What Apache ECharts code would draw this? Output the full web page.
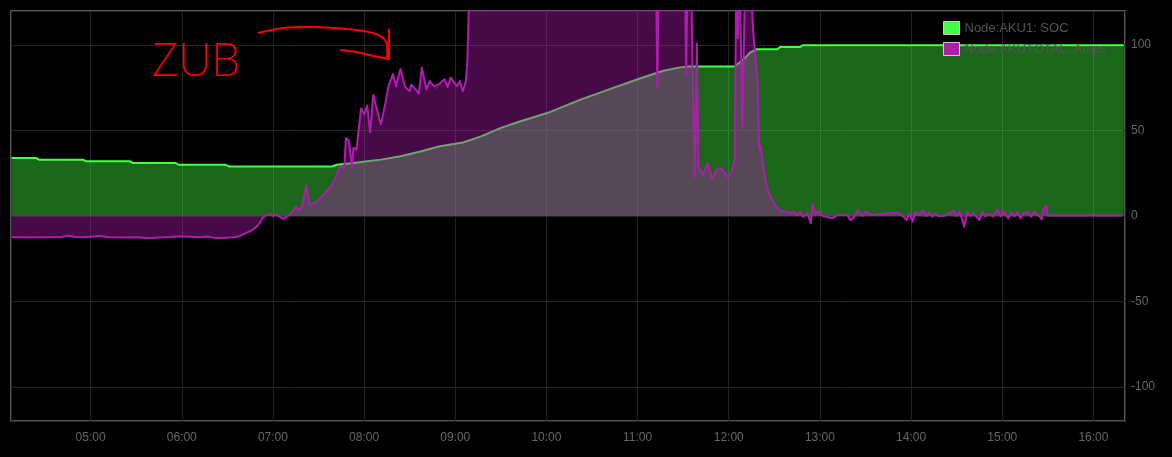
<!DOCTYPE html>
<html>
<head>
<meta charset="utf-8">
<script src="https://cdn.jsdelivr.net/npm/echarts@6/dist/echarts.min.js"></script>
<style>
  html, body { margin: 0; padding: 0; background: #000; }
  #chart { width: 1172px; height: 457px; }
</style>
</head>
<body>
<div id="chart"></div>
<script>
// ---- Data ----
const socTimes = ['04:08','04:24','04:26','04:55','04:57','05:26','05:28','05:56','05:58','06:29','06:31','07:39','07:42','07:53','08:02','08:11','08:24','08:37','08:50','09:05','09:17','09:30','09:43','10:01','10:22','10:44','11:02','11:17','11:28','11:34','12:04','12:11','12:14','12:18','12:32','12:34','12:47','12:49','16:20'];
const socValues = [34,34,33,33,32,32,31,31,30,30,29,29,30,31,32,33,35,37.8,40.8,43,46.6,51.6,55.5,60.4,68,75,80.6,85,87,87.5,87.5,92.7,95.7,97.6,97.6,99,99,100,100];

const ampTimes = ['04:08','04:14','04:20','04:30','04:40','04:46','04:50','04:56','05:06','05:12','05:22','05:30','05:39','05:45','05:52','05:59','06:06','06:12','06:17','06:23','06:29','06:34','06:38','06:42','06:46','06:49','06:51','06:53','06:55','06:58',
  '07:00','07:02','07:04','07:07','07:10','07:12','07:15','07:17','07:19','07:20','07:22','07:24','07:26','07:29','07:33','07:38','07:42','07:44','07:47','07:48','07:50','07:52','07:53','07:55','07:58',
  '08:00','08:02','08:04','08:06','08:08','08:11','08:14','08:16','08:19','08:21','08:22','08:24','08:27','08:30','08:31','08:34','08:36','08:38','08:41','08:43','08:46','08:49','08:53','08:55','08:57',
  '09:01','09:03','09:05','09:07','09:08','09:09','09:11','09:40','10:20','10:50','11:12','11:13','11:14','11:31','11:32','11:33','11:35','11:37:30','11:39','11:40','11:43','11:46','11:49','11:52','11:55','11:59',
  '12:02','12:04','12:05','12:06','12:07','12:08','12:09','12:10','12:11','12:14','12:16','12:19','12:20','12:21','12:23','12:25','12:27','12:31','12:34','12:37','12:39','12:41','12:43','12:45','12:47','12:49','12:52','12:54','12:55','12:57','12:59',
  '13:02','13:08','13:12','13:18','13:20','13:22','13:25','13:26','13:28','13:30','13:34','13:51','13:55','13:57','13:59',
  '14:01','14:03','14:05','14:08','14:10','14:12','14:14','14:16','14:18','14:22','14:25','14:28','14:30','14:32','14:35','14:37','14:39','14:41','14:45','14:47','14:49','14:51','14:54','14:57','14:59',
  '15:01','15:04','15:06','15:08','15:10','15:12','15:14','15:17','15:19','15:21','15:24','15:26','15:27','15:29','15:30','16:19'];
const ampValues = [-12.5,-12.4,-12.6,-12.5,-12.3,-11.6,-12.3,-12.4,-11.7,-12.5,-12.6,-12.4,-13.0,-12.6,-12.3,-11.8,-12.2,-12.4,-12.0,-13.0,-12.7,-12.4,-11.8,-10.0,-8.5,-6.5,-4.5,-1.5,0.3,1.2,
  0.0,0.9,-0.2,-1.8,0.2,1.6,5.5,3.5,5.0,9.4,18,6.5,7.2,8.4,12.4,17,24,29,28,45.7,44,29,40,39,63,
  59.5,64.7,49,71,64,53.5,66,76,83,76,80,86,75.5,73,77,74,71.6,87,74,79,76,77,80,75.5,81,
  76,79,73,79,92,125,150,160,170,165,150,75,150,150,83,150,150,23,101,29,24,31,22,27,28,23,
  26,34,150,104,150,150,52,52,150,150,109,78,39,41,27,17,12,5.5,3,2.5,2.5,1.5,2.5,0.5,2.5,-0.4,1.5,-4.3,7,1.5,2.5,
  0,-1.4,0.6,0.6,-2.4,-1.4,3.5,4.5,0,2.5,0.6,2,-0.4,-2.4,1.5,
  -3.3,2.5,0.6,3,0,2,-0.4,1.5,-0.2,0.2,1.5,3,0,2.5,-6.3,2.5,0,1.5,-2.4,2.5,-0.2,1.5,-0.2,4,-0.2,
  2.5,-1.4,2,-0.2,2.5,-1.4,1.5,2.5,-0.4,2.5,0.2,-2,4,6,0.3,0.3];

const seriesNames = ['Node:AKU1: SOC', 'Node:AKUTOTAL: Amps'];
const yTicks = [-100, -50, 0, 50, 100];

// ---- helpers ----
function toTs(s) {
  const p = s.split(':').map(Number);
  return new Date(2020, 0, 1, p[0], p[1], p[2] || 0).getTime();
}
function pair(times, vals) { return times.map((t, i) => [toTs(t), vals[i]]); }
function pad(n) { return (n < 10 ? '0' : '') + n; }

const chart = echarts.init(document.getElementById('chart'), null, { renderer: 'canvas' });
const FONT = "'Liberation Sans', Arial, sans-serif";

chart.setOption({
  backgroundColor: '#000',
  animation: false,
  grid: { left: 11, right: 47, top: 11, bottom: 36, show: true, borderColor: '#555', borderWidth: 2, backgroundColor: 'transparent' },
  legend: {
    orient: 'vertical', left: 943, top: 21, padding: 0, itemGap: 7, z: 20,
    itemWidth: 16, itemHeight: 13, icon: 'rect',
    itemStyle: { borderColor: '#ccc', borderWidth: 1 },
    textStyle: { color: '#555', fontSize: 13, fontFamily: FONT },
    data: seriesNames
  },
  xAxis: {
    type: 'time',
    min: toTs('04:07:36'), max: toTs('16:20:48'),
    minInterval: 3600000, maxInterval: 3600000,
    axisLine: { show: false }, axisTick: { show: false },
    splitLine: { show: true, lineStyle: { color: '#232323', width: 1 } },
    axisLabel: {
      color: '#666', fontSize: 12, fontFamily: FONT, margin: 11,
      showMinLabel: false, showMaxLabel: false,
      formatter: function (v) { const d = new Date(v); return pad(d.getHours()) + ':' + pad(d.getMinutes()); }
    }
  },
  yAxis: {
    type: 'value', position: 'right', min: -120, max: 120,
    axisLine: { show: false }, axisTick: { show: false },
    splitLine: { show: true, lineStyle: { color: '#232323', width: 1 } },
    axisLabel: {
      color: '#666', fontSize: 12, fontFamily: FONT, margin: 6, padding: [3, 0, 0, 0],
      showMinLabel: false, showMaxLabel: false,
      formatter: function (v) { return yTicks.indexOf(v) >= 0 ? String(v) : ''; }
    }
  },
  series: [
    {
      name: seriesNames[0], type: 'line', data: pair(socTimes, socValues), z: 2,
      showSymbol: false, symbol: 'none', clip: true,
      itemStyle: { color: '#44ff44' },
      lineStyle: { color: '#44ff44', width: 2 },
      areaStyle: { color: 'rgba(68,255,68,0.4)', opacity: 1 }
    },
    {
      name: seriesNames[1], type: 'line', data: pair(ampTimes, ampValues), z: 3,
      showSymbol: false, symbol: 'none', clip: true,
      itemStyle: { color: '#b01cb0' },
      lineStyle: { color: '#b01cb0', width: 2, join: 'round' },
      areaStyle: { color: 'rgba(176,28,176,0.4)', opacity: 1 }
    }
  ],
  graphic: [
    {
      type: 'text', left: 152, top: 40, z: 100,
      style: { text: 'ZUB', fill: '#ff0000', font: "200 46px 'Noto Sans', 'DejaVu Sans', sans-serif" }
    },
    {
      type: 'polyline', z: 100,
      shape: { points: [[258,33],[283,28],[313,27],[347,29],[373,33],[383,38],[387,45],[387,58]], smooth: 0.3 },
      style: { stroke: '#ff0000', lineWidth: 2, fill: null }
    },
    {
      type: 'polyline', z: 100,
      shape: { points: [[340,50],[357,52],[373,56],[389,59],[389,29]] },
      style: { stroke: '#ff0000', lineWidth: 2, fill: null }
    }
  ]
});
</script>
</body>
</html>
